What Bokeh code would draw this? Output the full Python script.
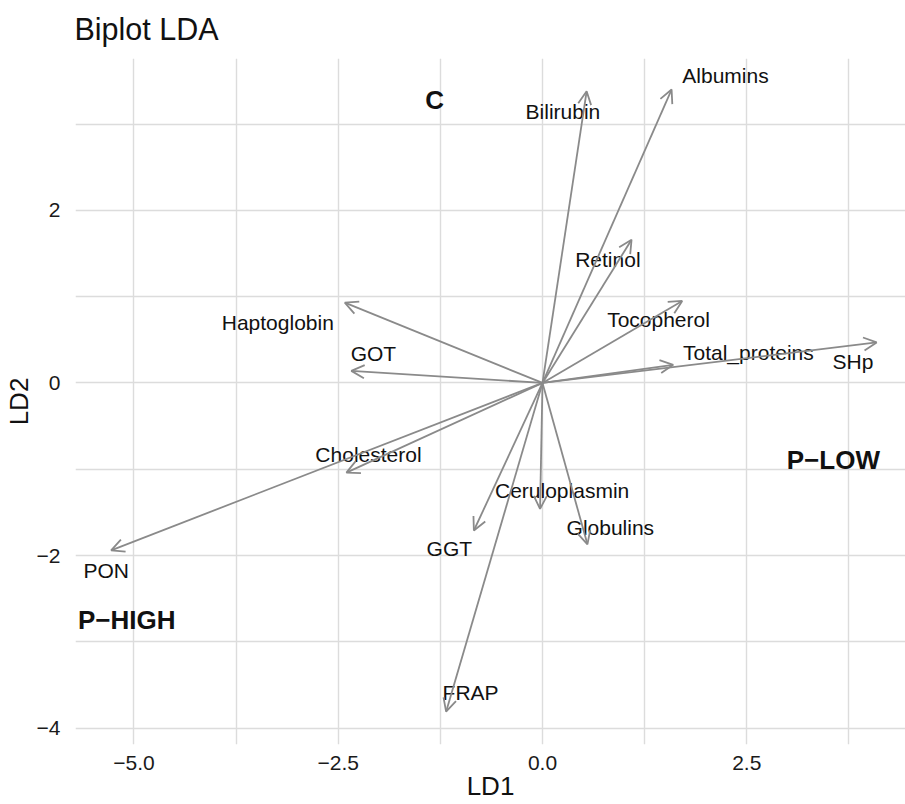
from bokeh.plotting import figure
from bokeh.models import (ColumnDataSource, Arrow, OpenHead, FixedTicker,
                          CustomJSTickFormatter, Range1d)
from bokeh.core.properties import value
from bokeh.embed import file_html
from bokeh.resources import INLINE

# ---- data ----
variables = ["Albumins", "Bilirubin", "Retinol", "Tocopherol", "Total_proteins",
             "SHp", "Haptoglobin", "GOT", "Cholesterol", "PON", "GGT",
             "Ceruloplasmin", "Globulins", "FRAP"]
ld1 = [1.58, 0.54, 1.09, 1.71, 1.60, 4.09, -2.42, -2.34, -2.40, -5.28, -0.84,
       -0.03, 0.55, -1.18]
ld2 = [3.40, 3.38, 1.66, 0.95, 0.21, 0.47, 0.93, 0.14, -1.04, -1.94, -1.71,
       -1.46, -1.87, -3.81]
label_ld1 = [2.24, 0.25, 0.80, 1.42, 2.52, 3.80, -3.24, -2.07, -2.13, -5.34,
             -1.14, 0.24, 0.83, -0.88]
label_ld2 = [3.56, 3.15, 1.43, 0.73, 0.35, 0.25, 0.70, 0.34, -0.83, -2.17,
             -1.92, -1.25, -1.67, -3.59]

groups = ["C", "P\u2212LOW", "P\u2212HIGH"]
group_ld1 = [-1.32, 3.56, -5.09]
group_ld2 = [3.28, -0.89, -2.75]

x_ticks = [-5.0, -2.5, 0.0, 2.5]
x_minor = [-3.75, -1.25, 1.25, 3.75]
y_ticks = [-4, -2, 0, 2]
y_minor = [-3, -1, 1, 3]

FONT = "Liberation Sans"
ARROW_COL = "#8a8a8a"
TEXT_COL = "#111111"
GRID_COL = "#dcdcdc"

p = figure(frame_width=830, frame_height=686, output_backend="svg",
           toolbar_location=None,
           x_range=Range1d(-5.716, 4.443), y_range=Range1d(-4.19, 3.76),
           min_border_left=0, min_border_right=0, min_border_top=51,
           min_border_bottom=0, title="Biplot LDA")
p.outline_line_color = None
p.background_fill_color = "white"
p.border_fill_color = "white"

p.title.text_font = FONT
p.title.text_font_size = "30.5px"
p.title.text_font_style = "normal"
p.title.text_color = TEXT_COL
p.title.align = "left"
p.title.vertical_align = "top"
p.title.standoff = 22
p.title.offset = -1

# axes
p.xaxis.ticker = FixedTicker(ticks=x_ticks, minor_ticks=x_minor)
p.yaxis.ticker = FixedTicker(ticks=y_ticks, minor_ticks=y_minor)
fmt_x = CustomJSTickFormatter(code="""
  const s = Math.abs(tick).toFixed(1);
  return tick < 0 ? "\\u2212" + s : s;
""")
fmt_y = CustomJSTickFormatter(code="""
  const s = Math.abs(tick).toFixed(0);
  return tick < 0 ? "\\u2212" + s : s;
""")
p.xaxis.formatter = fmt_x
p.yaxis.formatter = fmt_y
for ax in (p.xaxis, p.yaxis):
    ax.axis_line_color = None
    ax.major_tick_line_color = None
    ax.minor_tick_line_color = None
    ax.major_tick_out = 0
    ax.major_tick_in = 0
    ax.major_label_text_font = FONT
    ax.major_label_text_font_size = "21px"
    ax.major_label_text_color = "#1a1a1a"
    ax.axis_label_text_font = FONT
    ax.axis_label_text_font_size = "26px"
    ax.axis_label_text_font_style = "normal"
    ax.axis_label_text_color = TEXT_COL
p.xaxis.axis_label = "LD1"
p.yaxis.axis_label = "LD2"
p.xaxis.major_label_standoff = 7
p.yaxis.major_label_standoff = 11
p.xaxis.axis_label_standoff = -2
p.yaxis.axis_label_standoff = 0

for g in (p.xgrid, p.ygrid):
    g.grid_line_color = GRID_COL
    g.grid_line_width = 1.4
    g.minor_grid_line_color = GRID_COL
    g.minor_grid_line_width = 1.4

# arrows
src = ColumnDataSource(dict(x0=[0.0] * len(ld1), y0=[0.0] * len(ld2),
                            ld1=ld1, ld2=ld2, lx=label_ld1, ly=label_ld2,
                            name=variables))
p.add_layout(Arrow(end=OpenHead(size=13, line_color=ARROW_COL, line_width=1.8),
                   x_start="x0", y_start="y0", x_end="ld1", y_end="ld2",
                   source=src, line_color=ARROW_COL, line_width=1.8))

p.text(x="lx", y="ly", text="name", source=src, text_font=value(FONT),
       text_font_size="21px", text_align="center", text_baseline="middle",
       text_color=TEXT_COL)

gsrc = ColumnDataSource(dict(x=group_ld1, y=group_ld2, g=groups))
p.text(x="x", y="y", text="g", source=gsrc, text_font=value(FONT),
       text_font_size="26px", text_font_style="bold", text_align="center",
       text_baseline="middle", text_color=TEXT_COL)

open("out.html", "w").write(file_html(p, INLINE))
